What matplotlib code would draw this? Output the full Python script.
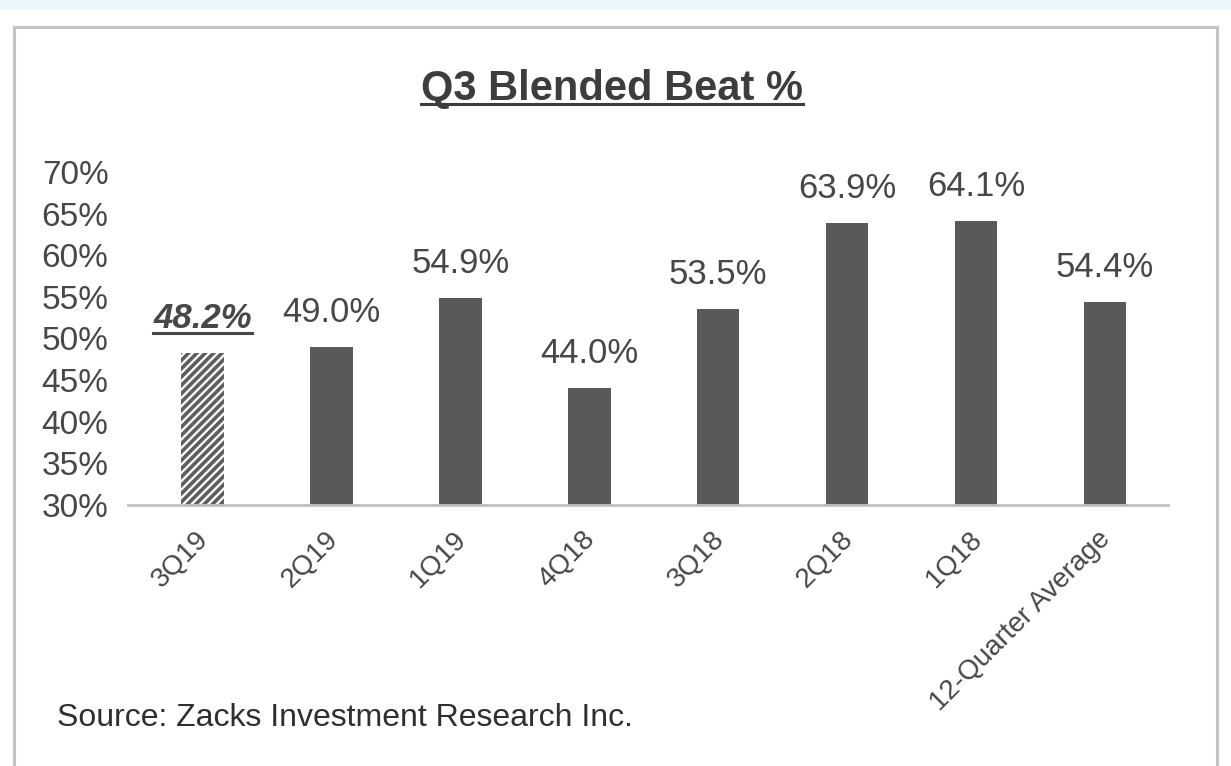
import matplotlib.pyplot as plt
import matplotlib.transforms as mtransforms
from matplotlib.patches import Rectangle
from matplotlib.lines import Line2D

# data
quarters = ['3Q19', '2Q19', '1Q19', '4Q18', '3Q18', '2Q18', '1Q18', '12-Quarter Average']
beat_pct = [48.2, 49.0, 54.9, 44.0, 53.5, 63.9, 64.1, 54.4]
yticks = [30, 35, 40, 45, 50, 55, 60, 65, 70]

bar_color = '#595959'
text_color = '#474747'

plt.rcParams['font.family'] = ['Liberation Sans', 'DejaVu Sans']
plt.rcParams['hatch.linewidth'] = 2.6

fig = plt.figure(figsize=(12.31, 7.66), dpi=100)
W, H = 1231, 766

# light blue band on top and grey framed panel
fig.patches.append(Rectangle((0, 1 - 10 / H), 1, 10 / H, transform=fig.transFigure,
                             facecolor='#eaf5fc', edgecolor='none', zorder=-2))
fig.patches.append(Rectangle((14 / W, -0.05), (1217 - 14) / W, 1 - 27 / H + 0.05,
                             transform=fig.transFigure, facecolor='white',
                             edgecolor='#c4c4c4', linewidth=2.2, zorder=-1))

ax = fig.add_axes([128 / W, 261 / H, 1040 / W, 333 / H])
ax.set_facecolor('none')
ax.set_zorder(2)

x = range(len(quarters))
bars = ax.bar(x, [v - 30 for v in beat_pct], bottom=30, width=0.33, color=bar_color,
              linewidth=0)
bars[0].set_facecolor('white')
bars[0].set_edgecolor('#5e5e5e')
bars[0].set_hatch('////')

ax.set_ylim(30, 70)
ax.set_xlim(-0.58, 7.49)
ax.set_yticks(yticks)
ax.set_yticklabels([f'{t}%' for t in yticks], fontsize=24, color=text_color)
ax.set_xticks(list(x))
ax.set_xticklabels(quarters, rotation=45, ha='right', rotation_mode='anchor',
                   fontsize=20, color=text_color)
ax.tick_params(axis='both', length=0)
ax.tick_params(axis='y', pad=14)
ax.tick_params(axis='x', pad=15)
shift = mtransforms.ScaledTranslation(-7 / 100, 0, fig.dpi_scale_trans)
for lab in ax.get_xticklabels():
    lab.set_transform(lab.get_transform() + shift)
for s in ['top', 'right', 'left']:
    ax.spines[s].set_visible(False)
ax.spines['bottom'].set_color('#c0c0c0')
ax.spines['bottom'].set_linewidth(2)

labels = []
for i, v in enumerate(beat_pct):
    t = ax.annotate(f'{v:.1f}%', (i, v), xytext=(0, 18), textcoords='offset points',
                    ha='center', va='baseline', fontsize=25, color=text_color)
    labels.append(t)
labels[0].set_fontstyle('italic')
labels[0].set_fontweight('bold')

title = fig.text(612 / W, 1 - 100 / H, 'Q3 Blended Beat %', ha='center', va='baseline',
                 fontsize=30, fontweight='bold', color='#3d3d3d')
fig.text(57 / W, 1 - 718 / H, 'Source: Zacks Investment Research Inc.', ha='left',
         va='center', fontsize=23, color='#2f2f2f')

# underlines for the title and the current-quarter label
fig.canvas.draw()
r = fig.canvas.get_renderer()
inv = fig.transFigure.inverted()

bb = title.get_window_extent(r)
y_ul = (1 - 104 / H)
x0 = inv.transform((bb.x0, 0))[0]
x1 = inv.transform((bb.x1, 0))[0]
fig.lines.append(Line2D([x0, x1], [y_ul, y_ul], transform=fig.transFigure,
                        color='#3d3d3d', linewidth=2.2, zorder=3))

bb = labels[0].get_window_extent(r)
base_px = ax.transData.transform((0, beat_pct[0]))[1] + 18 * fig.dpi / 72
p0 = inv.transform((bb.x0, base_px - 5))
p1 = inv.transform((bb.x1, base_px - 5))
fig.lines.append(Line2D([p0[0], p1[0]], [p0[1], p1[1]], transform=fig.transFigure,
                        color=text_color, linewidth=2.2, zorder=3))

fig.savefig('out.png', dpi=100)
